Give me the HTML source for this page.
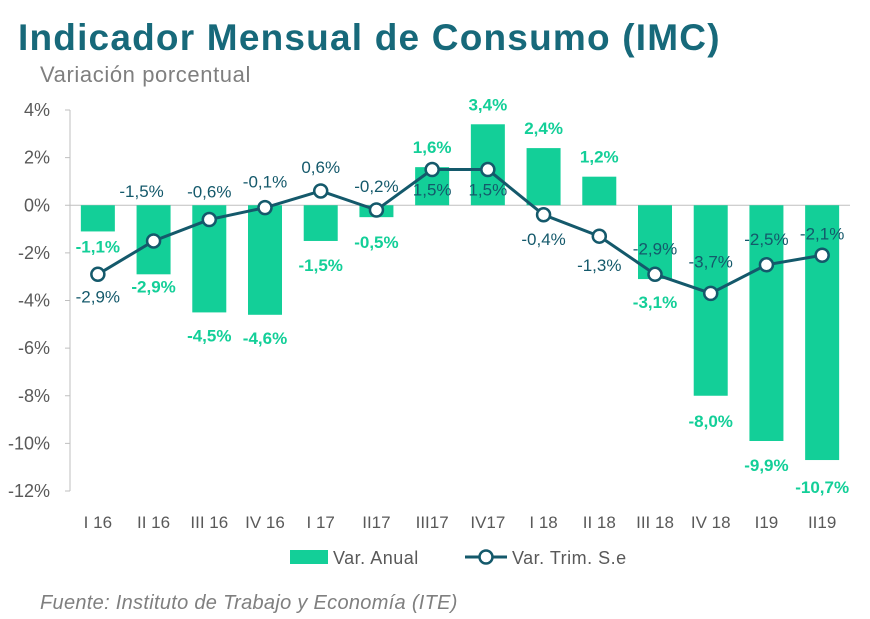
<!DOCTYPE html>
<html><head><meta charset="utf-8"><style>
body{margin:0;background:#fff;font-family:"Liberation Sans",sans-serif;}
#wrap{position:relative;width:870px;height:619px;overflow:hidden;}
</style></head><body>
<div id="wrap">
<svg id="chart" width="870" height="619" xmlns="http://www.w3.org/2000/svg">
<text x="18" y="50" font-size="37" font-weight="bold" letter-spacing="1.2" fill="#17697a">Indicador Mensual de Consumo (IMC)</text>
<text x="40" y="82" font-size="22" letter-spacing="0.6" fill="#7f7f7f">Variación porcentual</text>
<g id="grid"></g><g id="bars"></g><g id="line"></g><g id="labels"></g>
<g>
<rect x="290" y="550" width="38" height="14" fill="#13cf98"/>
<text x="333" y="564" font-size="18" letter-spacing="0.5" fill="#595959">Var. Anual</text>
<line x1="465" y1="557" x2="507" y2="557" stroke="#14596b" stroke-width="3"/>
<circle cx="486" cy="557" r="6.5" fill="#fff" stroke="#14596b" stroke-width="2.5"/>
<text x="512" y="564" font-size="18" letter-spacing="0.5" fill="#595959">Var. Trim. S.e</text>
</g>
<text x="40" y="609" font-size="20" font-style="italic" letter-spacing="0.3" fill="#7f7f7f">Fuente: Instituto de Trabajo y Economía (ITE)</text>
</svg></div>
<script>
const categories=["I 16","II 16","III 16","IV 16","I 17","II17","III17","IV17","I 18","II 18","III 18","IV 18","I19","II19"];
const anual=[-1.1,-2.9,-4.5,-4.6,-1.5,-0.5,1.6,3.4,2.4,1.2,-3.1,-8.0,-9.9,-10.7];
const trim=[-2.9,-1.5,-0.6,-0.1,0.6,-0.2,1.5,1.5,-0.4,-1.3,-2.9,-3.7,-2.5,-2.1];
const yTicks=[4,2,0,-2,-4,-6,-8,-10,-12];
const lineLabelDy=[22,-50,-28,-26,-24,-24,20,20,24,29,-26,-32,-26,-22];
const lineLabelDx=[0,-12,0,0,0,0,0,0,0,0,0,0,0,0];
const barLabelDy=[15,12,23,23,24,25,-20,-20,-20,-20,23,25,24,27];
const NS="http://www.w3.org/2000/svg";
const left=70,right=850,y0=110,y1=491,vmax=4,vmin=-12;
const bw=(right-left)/categories.length;
const X=i=>left+bw*(i+0.5);
const Y=v=>y0+(vmax-v)/(vmax-vmin)*(y1-y0);
function mk(tag,attrs,parent,txt){const e=document.createElementNS(NS,tag);for(const k in attrs)e.setAttribute(k,attrs[k]);if(txt!==undefined)e.textContent=txt;document.getElementById(parent).appendChild(e);return e;}
const fmt=v=>v.toFixed(1).replace('.',',')+'%';
let e=mk('line',{x1:left,y1:y0,x2:left,y2:y1,stroke:'#bfbfbf','stroke-width':1},'grid');

e=mk('line',{x1:left,y1:Y(0),x2:right,y2:Y(0),stroke:'#bfbfbf','stroke-width':1},'grid');

yTicks.forEach(t=>{
 e=mk('line',{x1:left-5,y1:Y(t),x2:left,y2:Y(t),stroke:'#bfbfbf'},'grid');
 
 e=mk('text',{x:left-20,y:Y(t)+6,'text-anchor':'end','font-size':18,fill:'#595959'},'grid',t+'%');
 
});
categories.forEach((c,i)=>{
 e=mk('text',{x:X(i),y:528,'text-anchor':'middle','font-size':17,fill:'#595959'},'grid',c);
 
});
anual.forEach((v,i)=>{
 const w=34;
 e=mk('rect',{x:X(i)-w/2,y:Math.min(Y(v),Y(0)),width:w,height:Math.abs(Y(v)-Y(0)),fill:'#13cf98'},'bars');
 
 e=mk('text',{x:X(i),y:Y(v)+barLabelDy[i]+6,'text-anchor':'middle','font-size':17,'font-weight':'bold',fill:'#13cf98'},'labels',fmt(v));
 
});
e=mk('polyline',{points:trim.map((v,i)=>X(i)+','+Y(v)).join(' '),fill:'none',stroke:'#14596b','stroke-width':3},'line');

trim.forEach((v,i)=>{
 e=mk('circle',{cx:X(i),cy:Y(v),r:6.5,fill:'#fff',stroke:'#14596b','stroke-width':2.5},'line');
 
 e=mk('text',{x:X(i)+lineLabelDx[i],y:Y(v)+lineLabelDy[i]+6,'text-anchor':'middle','font-size':17,fill:'#14596b'},'labels',fmt(v));
 
});
</script>
</body></html>
